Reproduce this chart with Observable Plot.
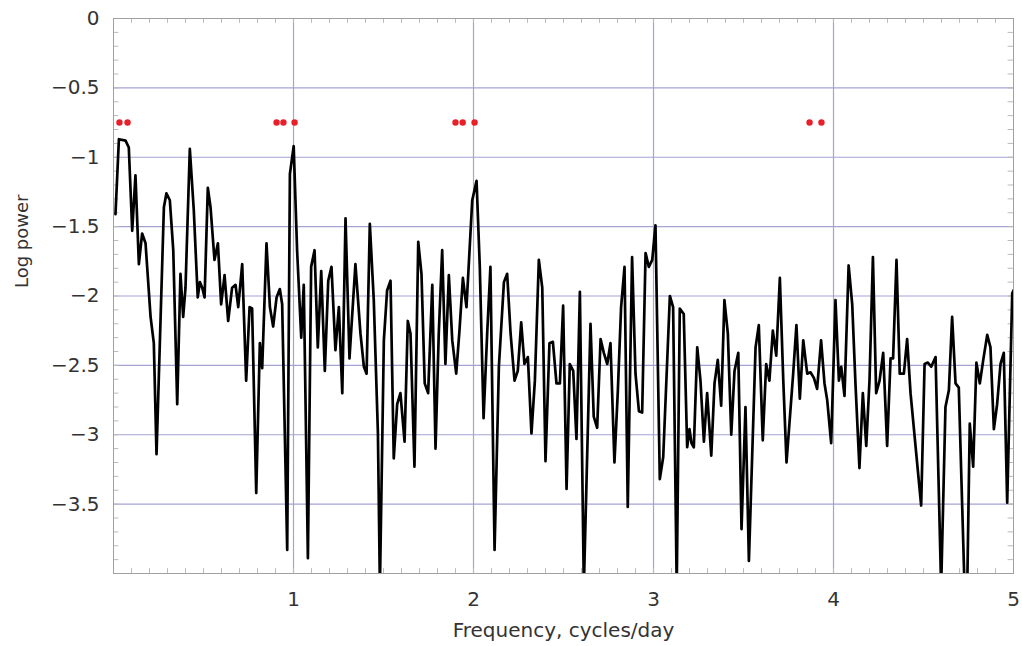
<!DOCTYPE html>
<html>
<head>
<meta charset="utf-8">
<script src="https://cdn.jsdelivr.net/npm/d3@7"></script>
<script src="https://cdn.jsdelivr.net/npm/@observablehq/plot@0.6"></script>
<style>
  html, body { margin: 0; padding: 0; background: #ffffff; }
  #chart { width: 1022px; height: 646px; }
</style>
</head>
<body>
<div id="chart"></div>
<script>
// Frequency (cycles/day) of each vertex of the periodogram
const freq = [
  0.011, 0.03, 0.067, 0.085, 0.104, 0.122, 0.141, 0.159, 0.178, 0.206,
  0.224, 0.239, 0.28, 0.294, 0.313, 0.332, 0.354, 0.372, 0.387, 0.4,
  0.424, 0.446, 0.468, 0.48, 0.493, 0.506, 0.524, 0.539, 0.561, 0.58,
  0.598, 0.617, 0.637, 0.659, 0.678, 0.693, 0.715, 0.737, 0.756, 0.77,
  0.793, 0.813, 0.826, 0.85, 0.869, 0.887, 0.906, 0.924, 0.937, 0.965,
  0.98, 1.001, 1.02, 1.043, 1.057, 1.08, 1.098, 1.117, 1.135, 1.154,
  1.174, 1.193, 1.211, 1.233, 1.252, 1.271, 1.289, 1.311, 1.344, 1.372,
  1.391, 1.406, 1.424, 1.446, 1.469, 1.48, 1.502, 1.52, 1.539, 1.557,
  1.576, 1.594, 1.617, 1.635, 1.65, 1.672, 1.693, 1.711, 1.729, 1.748,
  1.771, 1.789, 1.807, 1.826, 1.844, 1.863, 1.882, 1.904, 1.922, 1.941,
  1.961, 1.993, 2.017, 2.035, 2.056, 2.076, 2.094, 2.117, 2.141, 2.169,
  2.187, 2.206, 2.228, 2.246, 2.265, 2.283, 2.302, 2.322, 2.341, 2.363,
  2.382, 2.4, 2.422, 2.441, 2.461, 2.48, 2.498, 2.517, 2.535, 2.554,
  2.572, 2.591, 2.613, 2.65, 2.668, 2.687, 2.706, 2.724, 2.743, 2.761,
  2.783, 2.802, 2.82, 2.839, 2.857, 2.881, 2.9, 2.919, 2.937, 2.956,
  2.974, 2.993, 3.011, 3.035, 3.054, 3.091, 3.109, 3.129, 3.146, 3.168,
  3.187, 3.2, 3.211, 3.224, 3.243, 3.261, 3.28, 3.298, 3.321, 3.339,
  3.357, 3.376, 3.394, 3.413, 3.432, 3.45, 3.471, 3.489, 3.511, 3.53,
  3.567, 3.585, 3.607, 3.626, 3.644, 3.663, 3.682, 3.702, 3.721, 3.739,
  3.776, 3.794, 3.813, 3.832, 3.854, 3.872, 3.891, 3.909, 3.931, 3.95,
  3.965, 3.987, 4.011, 4.03, 4.043, 4.061, 4.084, 4.104, 4.122, 4.144,
  4.163, 4.182, 4.2, 4.219, 4.237, 4.256, 4.276, 4.298, 4.317, 4.331,
  4.35, 4.368, 4.391, 4.409, 4.428, 4.487, 4.506, 4.524, 4.543, 4.567,
  4.598, 4.622, 4.641, 4.659, 4.678, 4.696, 4.728, 4.743, 4.757, 4.776,
  4.794, 4.813, 4.832, 4.854, 4.872, 4.891, 4.909, 4.928, 4.946, 4.965,
  4.993, 5.0
];
// Log power at each vertex
const logPower = [
  -1.41, -0.87, -0.88, -0.93, -1.53, -1.13, -1.77, -1.55, -1.62, -2.15,
  -2.34, -3.14, -1.36, -1.26, -1.31, -1.67, -2.78, -1.84, -2.15, -1.94,
  -0.94, -1.38, -2.01, -1.9, -1.94, -2.01, -1.22, -1.36, -1.74, -1.62,
  -2.06, -1.85, -2.18, -1.94, -1.92, -2.08, -1.77, -2.61, -2.08, -2.09,
  -3.42, -2.34, -2.52, -1.62, -2.08, -2.22, -2.01, -1.95, -2.06, -3.83,
  -1.12, -0.92, -1.67, -2.3, -1.92, -3.89, -1.79, -1.67, -2.37, -1.82,
  -2.54, -1.89, -1.79, -2.39, -2.08, -2.7, -1.44, -2.45, -1.77, -2.27,
  -2.51, -2.56, -1.48, -2.03, -2.99, -4.1, -2.32, -1.96, -1.89, -3.17,
  -2.78, -2.7, -3.05, -2.18, -2.27, -3.23, -1.61, -1.84, -2.63, -2.7,
  -1.92, -3.1, -2.27, -1.67, -2.49, -1.85, -2.32, -2.56, -2.25, -1.87,
  -2.08, -1.31, -1.17, -1.79, -2.88, -2.27, -1.79, -3.83, -2.51, -1.9,
  -1.84, -2.27, -2.61, -2.54, -2.19, -2.49, -2.44, -2.99, -2.61, -1.74,
  -1.94, -3.19, -2.34, -2.33, -2.63, -2.63, -2.07, -3.39, -2.49, -2.54,
  -3.03, -1.97, -4.1, -2.2, -2.87, -2.95, -2.31, -2.41, -2.49, -2.34,
  -3.2, -2.68, -2.08, -1.79, -3.52, -1.72, -2.56, -2.83, -2.84, -1.69,
  -1.79, -1.74, -1.49, -3.32, -3.16, -2.0, -2.08, -4.1, -2.09, -2.13,
  -3.09, -2.96, -3.06, -3.09, -2.37, -2.61, -3.05, -2.7, -3.15, -2.63,
  -2.46, -2.79, -2.03, -2.27, -3.0, -2.54, -2.41, -3.68, -2.8, -3.91,
  -2.37, -2.21, -3.04, -2.49, -2.61, -2.25, -2.43, -1.87, -2.61, -3.2,
  -2.56, -2.21, -2.74, -2.32, -2.56, -2.55, -2.59, -2.67, -2.32, -2.63,
  -2.75, -3.06, -2.03, -2.61, -2.51, -2.72, -1.78, -2.06, -2.63, -3.24,
  -2.7, -3.08, -2.61, -1.72, -2.7, -2.61, -2.41, -3.08, -2.45, -2.45,
  -1.74, -2.56, -2.56, -2.31, -2.7, -3.51, -2.49, -2.48, -2.51, -2.44,
  -4.1, -2.8, -2.68, -2.15, -2.63, -2.66, -4.1, -4.1, -2.92, -3.23,
  -2.48, -2.63, -2.46, -2.28, -2.37, -2.96, -2.78, -2.49, -2.41, -3.49,
  -1.98, -1.96
];
// Red markers near the top of the panel
const markerFreq = [0.033, 0.078, 0.906, 0.944, 1.006, 1.9, 1.94, 2.006, 3.867, 3.933];
const markerLevel = [-0.75, -0.75, -0.75, -0.75, -0.75, -0.75, -0.75, -0.75, -0.75, -0.75];

const xTicks = [1, 2, 3, 4, 5];
const yTicks = [0, -0.5, -1, -1.5, -2, -2.5, -3, -3.5];
const xGrid = [1, 2, 3, 4];
const yGrid = [-0.5, -1, -1.5, -2, -2.5, -3, -3.5];
const xMinor = d3.range(1, 50).map(i => i / 10);
const yMinor = d3.range(1, 40).map(i => -i / 10);
const xTitle = "Frequency, cycles/day";
const yTitle = "Log power";

const series = freq.map((f, i) => ({f, p: logPower[i]}));
const markers = markerFreq.map((f, i) => ({f, p: markerLevel[i]}));
const fmtY = d => d === 0 ? "0" : "\u2212" + Math.abs(d);
const fmtX = d => String(d);

const chart = Plot.plot({
  width: 1022,
  height: 646,
  marginLeft: 113,
  marginRight: 9,
  marginTop: 18,
  marginBottom: 73,
  style: {fontFamily: "'DejaVu Sans', sans-serif", fontSize: "20px", background: "#ffffff", color: "#333"},
  x: {domain: [0, 5]},
  y: {domain: [-4, 0]},
  marks: [
    Plot.gridY(yGrid, {stroke: "#a4a4d4", strokeOpacity: 1, strokeWidth: 1.2}),
    Plot.gridX(xGrid, {stroke: "#a4a4d4", strokeOpacity: 1, strokeWidth: 1.2}),
    Plot.ruleX(xMinor, {y1: -4, y2: -3.965, stroke: "#bbb"}),
    Plot.ruleX(xMinor, {y1: 0, y2: -0.035, stroke: "#bbb"}),
    Plot.ruleY(yMinor, {x1: 0, x2: 0.03, stroke: "#bbb"}),
    Plot.ruleY(yMinor, {x1: 5, x2: 4.97, stroke: "#bbb"}),
    Plot.frame({stroke: "#a0a0a0"}),
    Plot.line(series, {x: "f", y: "p", stroke: "#000", strokeWidth: 2.7, strokeLinejoin: "round", clip: true}),
    Plot.dot(markers, {x: "f", y: "p", r: 3.2, fill: "#e8202a", stroke: "none"}),
    Plot.axisX(xTicks, {tickSize: 0, tickPadding: 18, tickFormat: fmtX, fontSize: 20, label: null}),
    Plot.axisY(yTicks, {tickSize: 0, tickPadding: 14, tickFormat: fmtY, fontSize: 20, label: null}),
    Plot.text([xTitle], {frameAnchor: "bottom", dy: 57, lineAnchor: "middle", fontSize: 20, fill: "#333"}),
    Plot.text([yTitle], {frameAnchor: "left", dx: -91, dy: -8, rotate: -90, lineAnchor: "middle", fontSize: 18, fill: "#333"})
  ]
});
document.getElementById("chart").appendChild(chart);
</script>
</body>
</html>
